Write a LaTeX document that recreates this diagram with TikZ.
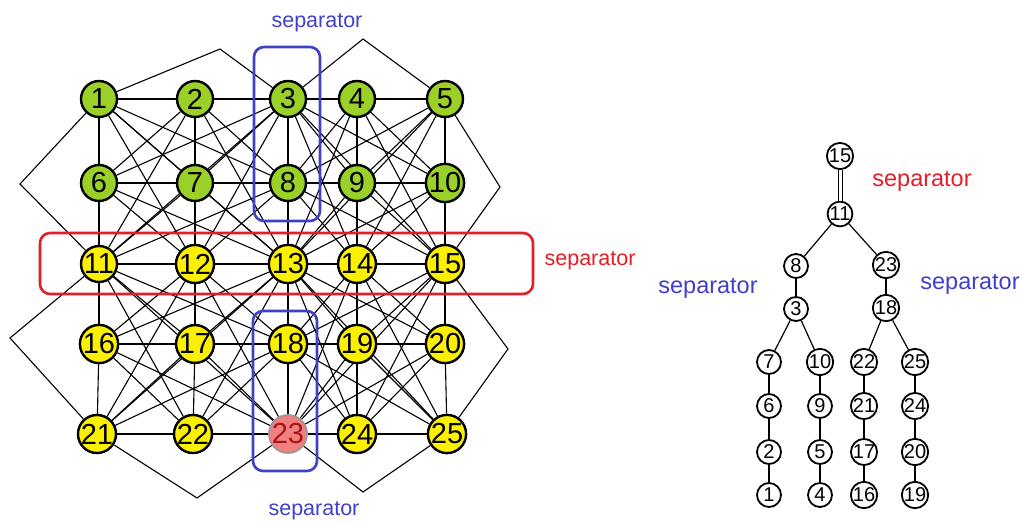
\documentclass[tikz,border=0pt]{standalone}
\usepackage{fontspec}
\setmainfont{Liberation Sans}
\usetikzlibrary{backgrounds}
\definecolor{gfill}{RGB}{155,208,40}
\definecolor{yfill}{RGB}{250,240,0}
\definecolor{rfill}{RGB}{240,128,128}
\definecolor{rtext}{RGB}{170,20,20}
\definecolor{rborder}{RGB}{150,150,150}
\definecolor{sepblue}{RGB}{64,64,200}
\definecolor{sepred}{RGB}{228,30,40}
\tikzset{
  gbase/.style={circle, draw=black, line width=2.4pt, minimum size=36pt, inner sep=0pt,
                font=\fontsize{29}{30}\selectfont},
  gn/.style={gbase, fill=gfill},
  yn/.style={gbase, fill=yfill},
  rn/.style={gbase, fill=rfill, draw=rborder, line width=1.5pt, text=rtext},
  gedge/.style={draw=black, line width=1.1pt},
  sepbox/.style={rounded corners=10pt, line width=2.6pt},
  seplab/.style={font=\fontsize{21.5}{24}\selectfont},
  treelab/.style={font=\fontsize{23.5}{26}\selectfont},
  tn/.style={circle, draw=black, fill=white, line width=1.8pt, minimum size=24pt, inner sep=0pt,
             font=\fontsize{20}{20}\selectfont},
  tedge/.style={draw=black, line width=1.2pt}
}
\begin{document}
\begin{tikzpicture}[x=1pt, y=-1pt]
\useasboundingbox (0,0) rectangle (1022,522);
% ---------- graph nodes ----------
\node[gn] (n1)  at (99,99)  {1};
\node[gn] (n2)  at (195,99) {2};
\node[gn] (n3)  at (288,99) {3};
\node[gn] (n4)  at (357,99) {4};
\node[gn] (n5)  at (445,99) {5};
\node[gn] (n6)  at (99,183)  {6};
\node[gn] (n7)  at (195,183) {7};
\node[gn] (n8)  at (288,183) {8};
\node[gn] (n9)  at (357,183) {9};
\node[gn] (n10) at (445,183) {10};
\node[yn] (n11) at (99,264)  {11};
\node[yn] (n12) at (195,264) {12};
\node[yn] (n13) at (288,264) {13};
\node[yn] (n14) at (357,264) {14};
\node[yn] (n15) at (445,264) {15};
\node[yn] (n16) at (99,344)  {16};
\node[yn] (n17) at (195,344) {17};
\node[yn] (n18) at (288,344) {18};
\node[yn] (n19) at (357,344) {19};
\node[yn] (n20) at (445,344) {20};
\node[yn] (n21) at (97,434)  {21};
\node[yn] (n22) at (193,434) {22};
\node[rn] (n23) at (288,434) {23};
\node[yn] (n24) at (357,434) {24};
\node[yn] (n25) at (447,434) {25};
% bend points of the outer edges
\coordinate (bt1) at (220,49);
\coordinate (bt2) at (363,39);
\coordinate (bl1) at (20,184);
\coordinate (bl2) at (10,338);
\coordinate (br1) at (500,187);
\coordinate (br2) at (508,349);
\coordinate (bb1) at (197,498);
\coordinate (bb2) at (363,492);
\begin{scope}[on background layer]
  % edges: all pairs of nodes sharing a 3x3 element
  \foreach \er in {0,2}{\foreach \ec in {0,2}{\foreach \a in {0,...,8}{\foreach \b in {0,...,8}{
    \ifnum\a<\b
      \pgfmathtruncatemacro\ra{\er+int(\a/3)}
      \pgfmathtruncatemacro\ca{\ec+mod(\a,3)}
      \pgfmathtruncatemacro\rb{\er+int(\b/3)}
      \pgfmathtruncatemacro\cb{\ec+mod(\b,3)}
      \pgfmathtruncatemacro\skipit{or(and(\ra==\rb,abs(\ca-\cb)==2),and(\ca==\cb,abs(\ra-\rb)==2))}
      \ifnum\skipit=0
        \pgfmathtruncatemacro\na{5*\ra+\ca+1}
        \pgfmathtruncatemacro\nb{5*\rb+\cb+1}
        \draw[gedge] (n\na) -- (n\nb);
      \fi
    \fi
  }}}}
  \draw[gedge] (n1) -- (bt1) -- (n3);
  \draw[gedge] (n3) -- (bt2) -- (n5);
  \draw[gedge] (n1) -- (bl1) -- (n11);
  \draw[gedge] (n11) -- (bl2) -- (n21);
  \draw[gedge] (n5) -- (br1) -- (n15);
  \draw[gedge] (n15) -- (br2) -- (n25);
  \draw[gedge] (n21) -- (bb1) -- (n23);
  \draw[gedge] (n23) -- (bb2) -- (n25);
  % separator boxes
  \draw[sepbox, draw=sepblue] (254,47) rectangle (320,221);
  \draw[sepbox, draw=sepblue] (253,311) rectangle (317,471);
  \draw[sepbox, draw=sepred] (40,233) rectangle (533,294);
\end{scope}
\node[seplab, text=sepblue] (lt) at (317,23) {separator};
\node[seplab, text=sepblue] (lb) at (314,511) {separator};
\node[seplab, text=sepred] (lr) at (590,261) {separator};
% ---------- elimination tree ----------
\node[tn] (t15) at (840,156) {15};
\node[tn] (t11) at (840,214) {11};
\node[tn] (t8)  at (796,266) {8};
\node[tn] (t23) at (886,265) {23};
\node[tn] (t3)  at (796,309) {3};
\node[tn] (t18) at (886,308) {18};
\node[tn] (t7)  at (769,362) {7};
\node[tn] (t10) at (820,362) {10};
\node[tn] (t22) at (864,362) {22};
\node[tn] (t25) at (915,362) {25};
\node[tn] (t6)  at (769,406) {6};
\node[tn] (t9)  at (820,406) {9};
\node[tn] (t21) at (864,406) {21};
\node[tn] (t24) at (915,406) {24};
\node[tn] (t2)  at (769,452) {2};
\node[tn] (t5)  at (820,452) {5};
\node[tn] (t17) at (864,452) {17};
\node[tn] (t20) at (915,452) {20};
\node[tn] (t1)  at (769,495) {1};
\node[tn] (t4)  at (820,495) {4};
\node[tn] (t16) at (864,495) {16};
\node[tn] (t19) at (915,495) {19};
\draw[tedge, double, double distance=3pt, line width=1pt] (t15) -- (t11);
\draw[tedge] (t11) -- (t8);
\draw[tedge] (t11) -- (t23);
\draw[tedge] (t8) -- (t3);
\draw[tedge] (t23) -- (t18);
\draw[tedge] (t3) -- (t7);
\draw[tedge] (t3) -- (t10);
\draw[tedge] (t18) -- (t22);
\draw[tedge] (t18) -- (t25);
\draw[tedge] (t7) -- (t6) -- (t2) -- (t1);
\draw[tedge] (t10) -- (t9) -- (t5) -- (t4);
\draw[tedge] (t22) -- (t21) -- (t17) -- (t16);
\draw[tedge] (t25) -- (t24) -- (t20) -- (t19);
\node[treelab, text=sepred] (ltr) at (922,181) {separator};
\node[treelab, text=sepblue] (ltl) at (708,288) {separator};
\node[treelab, text=sepblue] (ltrr) at (970,284) {separator};
\end{tikzpicture}
\end{document}
